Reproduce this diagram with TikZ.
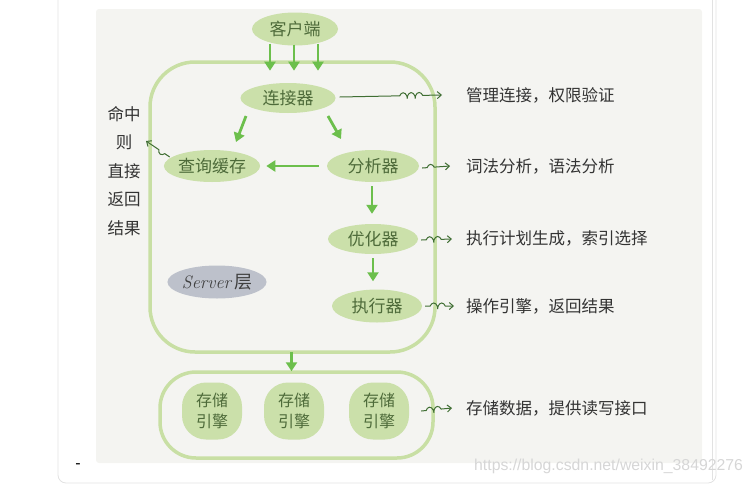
\documentclass[tikz,border=0pt]{standalone}
\usepackage{fontspec}
\newfontfamily\cjk{Noto Sans CJK SC}
\newfontfamily\wmfont{Liberation Sans}
\usetikzlibrary{arrows.meta,decorations.pathmorphing,shapes.geometric,calc}
\definecolor{panel}{HTML}{F4F4F1}
\definecolor{nodefill}{HTML}{CBE0AA}
\definecolor{framec}{HTML}{C8DFA4}
\definecolor{arr}{HTML}{6CBF4C}
\definecolor{ntext}{HTML}{4E6B3A}
\definecolor{sqc}{HTML}{3F6E33}
\definecolor{srv}{HTML}{BDC1CB}
\definecolor{lbl}{HTML}{333333}
\definecolor{pageline}{HTML}{E2E2E2}
\definecolor{wmc}{HTML}{D6D6D6}
\begin{document}
\begin{tikzpicture}[x=1pt,y=-1pt,
  gnode/.style={ellipse, fill=nodefill, text=ntext, inner sep=0pt,
    font=\cjk\fontsize{17}{19}\selectfont, minimum width=92pt, minimum height=32pt},
  engnode/.style={rectangle, rounded corners=24pt, fill=nodefill, text=ntext, inner sep=0pt,
    font=\cjk\fontsize{16}{21}\selectfont, align=center, minimum width=60pt, minimum height=57pt},
  framebox/.style={rectangle, draw=framec, line width=3.5pt, inner sep=0pt},
  garrow/.style={draw=arr, line width=2.8pt, -{Triangle[width=11pt,length=9pt]}},
  squig/.style 2 args={draw=sqc, line width=1pt, -{Straight Barb[length=4pt,width=7pt]},
    decorate, decoration={coil, aspect=0.5, segment length=8pt, amplitude=3pt,
    pre length=#1, post length=#2}},
  lbltext/.style={anchor=west, text=lbl, font=\cjk\fontsize{16.5}{18}\selectfont, inner sep=0pt}
]
\useasboundingbox (0,0) rectangle (755,485);
% page
\draw[pageline, line width=0.8pt, rounded corners=8pt] (58,-5) -- (58,483) -- (716,483) -- (716,-5);
\draw[pageline, line width=0.6pt] (712,-5) -- (712,480);
\fill[panel, rounded corners=3pt] (96,9) rectangle (702,463);
\node[font=\wmfont\fontsize{16}{18}\selectfont, text=black, inner sep=0pt] (dash) at (78,466) {-};
\node[anchor=west, font=\wmfont\fontsize{15.8}{18}\selectfont, text=wmc, inner sep=0pt] (wm) at (474,466) {https://blog.csdn.net/weixin\_38492276};

% frames
\node[framebox, rounded corners=45pt, minimum width=285pt, minimum height=290pt] (server) at (292.5,207) {};
\node[framebox, rounded corners=36pt, minimum width=273pt, minimum height=86pt] (storage) at (296.5,415) {};

% nodes
\node[gnode, minimum width=86pt, minimum height=33pt] (client) at (295,29) {客户端};
\node[gnode, minimum width=95pt, minimum height=30pt] (conn) at (288,98) {连接器};
\node[gnode] (cache) at (212,166) {查询缓存};
\node[gnode] (parser) at (373,166) {分析器};
\node[gnode, minimum width=90pt, minimum height=30pt] (opt) at (373,239) {优化器};
\node[gnode, minimum width=90pt, minimum height=33pt] (exec) at (377,306) {执行器};
\node[ellipse, fill=srv, text=black!75, inner sep=0pt, minimum width=92pt, minimum height=33pt,
  font=\fontsize{18}{20}\selectfont] (srvlbl) at (217,282) {\itshape Server\,\normalfont\cjk 层};
\node[engnode] (eng1) at (212,411) {存储\\引擎};
\node[engnode] (eng2) at (294,411) {存储\\引擎};
\node[engnode] (eng3) at (379,411) {存储\\引擎};

% labels
\node[lbltext] (t1) at (466,95) {管理连接，权限验证};
\node[lbltext] (t2) at (466,166) {词法分析，语法分析};
\node[lbltext] (t3) at (466,238) {执行计划生成，索引选择};
\node[lbltext] (t4) at (466,306) {操作引擎，返回结果};
\node[lbltext] (t5) at (466,408) {存储数据，提供读写接口};
\node[text=lbl, font=\cjk\fontsize{16.5}{28.5}\selectfont, align=center, inner sep=0pt, anchor=north] (hit) at (124,106) {命中\\则\\直接\\返回\\结果};
\coordinate (hitarr) at (146,141);

% green arrows
\draw[garrow] ($(client.south)+(-25,-2)$) -- ($(client.south)+(-25,25)$);
\draw[garrow] ($(client.south)+(-1,-1)$) -- ($(client.south)+(-1,25)$);
\draw[garrow] ($(client.south)+(23,-2)$) -- ($(client.south)+(23,25)$);
\draw[garrow] ($(conn.center)+(-42,18)$) -- ($(cache.center)+(24,-24)$);
\draw[garrow] ($(conn.center)+(40,18)$) -- ($(parser.center)+(-32,-27)$);
\draw[garrow] ($(parser.west)+(-8,0)$) -- ($(cache.east)+(6,0)$);
\draw[garrow] ($(parser.south)+(-1,4)$) -- ($(opt.north)+(-1,-10)$);
\draw[garrow] ($(opt.south)+(0,4)$) -- ($(exec.north)+(-4,-8)$);
\draw[garrow] ($(server.south)+(-1,-2)$) -- ($(storage.north)+(-5,1)$);

% squiggle arrows
\draw[squig={60pt}{14pt}] ($(conn.east)+(4,-1)$) -- ($(t1.west)+(-24,0)$);
\draw[squig={5pt}{8pt}] ($(parser.east)+(3,2)$) -- ($(t2.west)+(-16,0)$);
\draw[squig={5pt}{8pt}] ($(opt.east)+(3,1)$) -- ($(t3.west)+(-14,1)$);
\draw[squig={5pt}{8pt}] ($(exec.east)+(3,0)$) -- ($(t4.west)+(-12,0)$);
\draw[squig={5pt}{8pt}] ($(eng3.east)+(12,0)$) -- ($(t5.west)+(-14,0)$);
\draw[squig={6pt}{10pt}] ($(cache.west)+(6,-9)$) -- (hitarr);
\end{tikzpicture}
\end{document}
